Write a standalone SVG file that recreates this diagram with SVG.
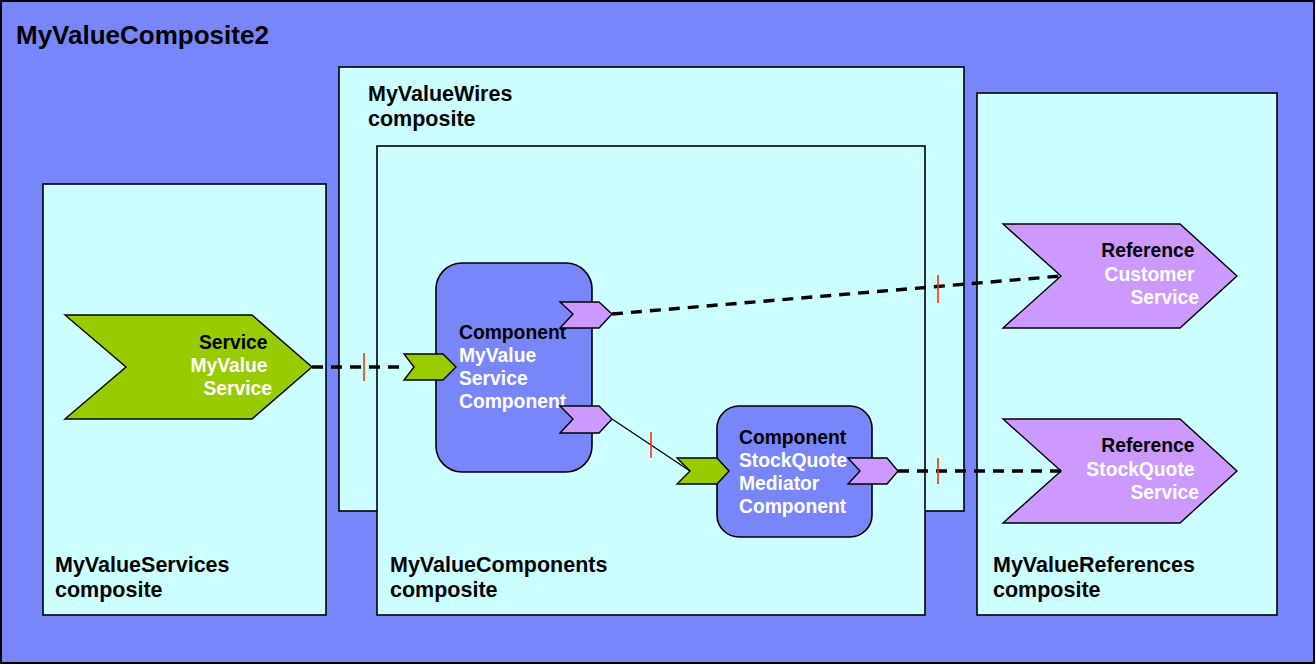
<svg xmlns="http://www.w3.org/2000/svg" width="1316" height="665" viewBox="0 0 1316 665">
  <style>
    .outer { fill: #7986FA; stroke: #000; stroke-width: 2; }
    .box { fill: #CCFFFF; stroke: #000; stroke-width: 1.6; }
    .comp { fill: #7986FA; stroke: #000; stroke-width: 1.6; }
    .svc { fill: #99CC00; stroke: #000; stroke-width: 1.4; stroke-linejoin: miter; }
    .ref { fill: #CC99FF; stroke: #000; stroke-width: 1.4; stroke-linejoin: miter; }
    text { font-family: "Liberation Sans", Arial, sans-serif; font-weight: bold; }
    .title { font-size: 26px; fill: #000; }
    .lbl { font-size: 21.5px; fill: #000; }
    .t { font-size: 19.3px; fill: #000; }
    .w { font-size: 19.3px; fill: #FFF; }
    .wire { fill: none; stroke: #000; stroke-width: 3.4; stroke-dasharray: 11 8; }
    .wire-solid { fill: none; stroke: #000; stroke-width: 1.3; }
    .tick { stroke: #FF3300; stroke-width: 1.6; }
  </style>

  <!-- top-level composite -->
  <g id="MyValueComposite2">
    <rect class="outer" x="1" y="1" width="1313" height="662"/>
    <text class="title" x="16" y="44">MyValueComposite2</text>
  </g>

  <!-- nested composites -->
  <g id="MyValueServices">
    <rect class="box" x="43" y="184" width="283" height="431"/>
    <text class="lbl" x="55" y="572">MyValueServices</text>
    <text class="lbl" x="55" y="597">composite</text>
  </g>

  <g id="MyValueWires">
    <rect class="box" x="339" y="67" width="625" height="444"/>
    <text class="lbl" x="368" y="101">MyValueWires</text>
    <text class="lbl" x="368" y="126">composite</text>
  </g>

  <g id="MyValueComponents">
    <rect class="box" x="377" y="146" width="548" height="469"/>
    <text class="lbl" x="390" y="572">MyValueComponents</text>
    <text class="lbl" x="390" y="597">composite</text>
  </g>

  <g id="MyValueReferences">
    <rect class="box" x="977" y="93" width="300" height="522"/>
    <text class="lbl" x="993" y="572">MyValueReferences</text>
    <text class="lbl" x="993" y="597">composite</text>
  </g>

  <!-- promoted service -->
  <g id="MyValueService">
    <polygon class="svc" points="65,315 252,315 312,367 252,419 65,419 126,367"/>
    <text text-anchor="end" x="272">
      <tspan class="t" x="272" y="349">Service</tspan>
      <tspan class="w" x="272" y="372">MyValue</tspan>
      <tspan class="w" x="272" y="395">Service</tspan>
    </text>
  </g>

  <!-- components -->
  <g id="MyValueServiceComponent">
    <rect class="comp" x="436" y="263" width="156" height="209" rx="26" ry="26"/>
    <text x="459">
      <tspan class="t" x="459" y="339">Component</tspan>
      <tspan class="w" x="459" y="362">MyValue</tspan>
      <tspan class="w" x="459" y="385">Service</tspan>
      <tspan class="w" x="459" y="408">Component</tspan>
    </text>
    <polygon class="svc" points="404,354 443,354 456,367 443,380 404,380 414,367"/>
    <polygon class="ref" points="560,302 599,302 612,314 599,328 560,328 573,314"/>
    <polygon class="ref" points="560,406 599,406 612,419 599,433 560,433 573,419"/>
  </g>

  <g id="StockQuoteMediatorComponent">
    <rect class="comp" x="717" y="406" width="155" height="131" rx="22" ry="22"/>
    <text x="739">
      <tspan class="t" x="739" y="444">Component</tspan>
      <tspan class="w" x="739" y="467">StockQuote</tspan>
      <tspan class="w" x="739" y="490">Mediator</tspan>
      <tspan class="w" x="739" y="513">Component</tspan>
    </text>
    <polygon class="svc" points="677,458 717,458 729,471 717,484 677,484 690,471"/>
    <polygon class="ref" points="848,458 887,458 898,471 887,484 848,484 860,471"/>
  </g>

  <!-- promoted references -->
  <g id="CustomerService">
    <polygon class="ref" points="1003,224 1180,224 1237,276 1180,328 1003,328 1061,276"/>
    <text text-anchor="end" x="1199">
      <tspan class="t" x="1199" y="257">Reference</tspan>
      <tspan class="w" x="1199" y="281">Customer</tspan>
      <tspan class="w" x="1199" y="304">Service</tspan>
    </text>
  </g>

  <g id="StockQuoteService">
    <polygon class="ref" points="1003,419 1180,419 1237,471 1180,523 1003,523 1061,471"/>
    <text text-anchor="end" x="1199">
      <tspan class="t" x="1199" y="452">Reference</tspan>
      <tspan class="w" x="1199" y="476">StockQuote</tspan>
      <tspan class="w" x="1199" y="499">Service</tspan>
    </text>
  </g>

  <!-- wires -->
  <g id="connectors">
    <line class="wire" x1="312" y1="367" x2="404" y2="367"/>
    <line class="tick" x1="364" y1="353" x2="364" y2="381"/>

    <line class="wire" x1="612" y1="314" x2="1061" y2="276"/>
    <line class="tick" x1="938" y1="275" x2="938" y2="303"/>

    <line class="wire-solid" x1="612" y1="419" x2="690" y2="471"/>
    <line class="tick" x1="651" y1="432" x2="651" y2="458"/>

    <line class="wire" x1="898" y1="471" x2="1061" y2="471"/>
    <line class="tick" x1="938" y1="458" x2="938" y2="484"/>
  </g>
</svg>
